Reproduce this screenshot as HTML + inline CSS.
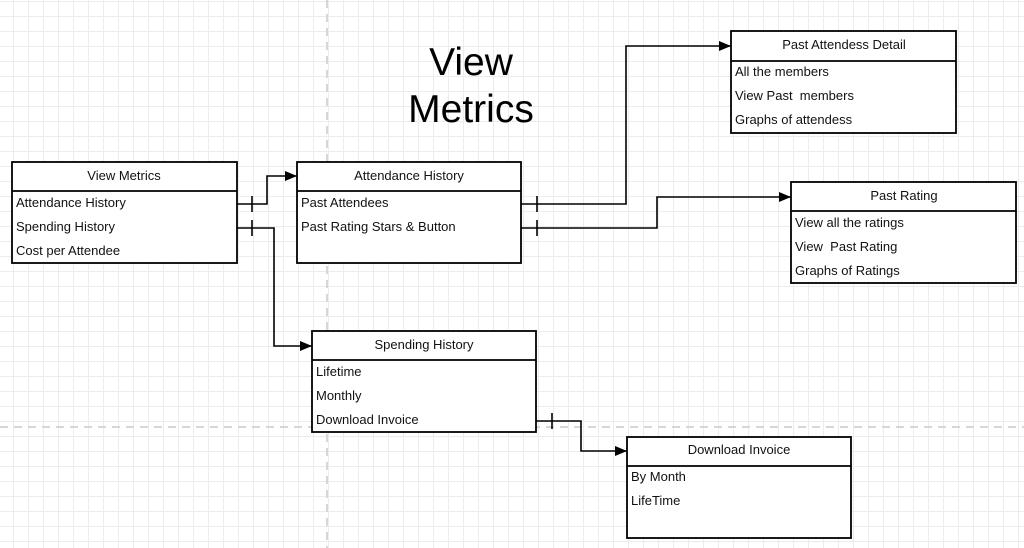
<!DOCTYPE html>
<html><head><meta charset="utf-8"><style>
html,body{margin:0;padding:0;background:#fff;}
svg{display:block;font-family:"Liberation Sans",Arial,sans-serif;}
</style></head><body>
<svg width="1024" height="548" viewBox="0 0 1024 548" xmlns="http://www.w3.org/2000/svg">
<defs>
<pattern id="g" x="13" y="1" width="15" height="15" patternUnits="userSpaceOnUse">
<path d="M0 0.5H15M0.5 0V15" stroke="#ececec" stroke-width="1" fill="none"/>
</pattern>
<marker id="a" markerWidth="12" markerHeight="10" refX="12" refY="5" orient="auto" markerUnits="userSpaceOnUse">
<path d="M0 0L12 5L0 10Z" fill="#000"/>
</marker>
</defs>
<rect width="1024" height="548" fill="url(#g)"/>
<line x1="327" y1="0" x2="327" y2="548" stroke="#d6d6d6" stroke-width="2" stroke-dasharray="8,6"/>
<line x1="0" y1="427" x2="1024" y2="427" stroke="#d6d6d6" stroke-width="2" stroke-dasharray="8,6"/>

<text x="471" y="75" font-size="39" text-anchor="middle">View</text>
<text x="471" y="122" font-size="39" text-anchor="middle">Metrics</text>

<g stroke="#000" stroke-width="1.6" fill="none">
<polyline points="237,204 267,204 267,176 297,176" marker-end="url(#a)"/>
<polyline points="237,228 274,228 274,346 312,346" marker-end="url(#a)"/>
<polyline points="521,204 626,204 626,46 731,46" marker-end="url(#a)"/>
<polyline points="521,228 657,228 657,197 791,197" marker-end="url(#a)"/>
<polyline points="536,421 581,421 581,451 627,451" marker-end="url(#a)"/>
<line x1="252" y1="196" x2="252" y2="212"/>
<line x1="252" y1="220" x2="252" y2="236"/>
<line x1="537" y1="196" x2="537" y2="212"/>
<line x1="537" y1="220" x2="537" y2="236"/>
<line x1="552" y1="413" x2="552" y2="429"/>
</g>

<g font-size="13" fill="#111">
<g stroke="#000" stroke-width="1.8" fill="#fff">
<rect x="12" y="162" width="225" height="101"/><line x1="12" y1="191" x2="237" y2="191"/>
<rect x="297" y="162" width="224" height="101"/><line x1="297" y1="191" x2="521" y2="191"/>
<rect x="731" y="31" width="225" height="102"/><line x1="731" y1="61" x2="956" y2="61"/>
<rect x="791" y="182" width="225" height="101"/><line x1="791" y1="211" x2="1016" y2="211"/>
<rect x="312" y="331" width="224" height="101"/><line x1="312" y1="360" x2="536" y2="360"/>
<rect x="627" y="437" width="224" height="101"/><line x1="627" y1="466" x2="851" y2="466"/>
</g>
<text x="124" y="180" text-anchor="middle">View Metrics</text>
<text x="16" y="207">Attendance History</text>
<text x="16" y="231">Spending History</text>
<text x="16" y="255">Cost per Attendee</text>

<text x="409" y="180" text-anchor="middle">Attendance History</text>
<text x="301" y="207">Past Attendees</text>
<text x="301" y="231">Past Rating Stars &amp; Button</text>

<text x="844" y="49" text-anchor="middle">Past Attendess Detail</text>
<text x="735" y="76">All the members</text>
<text x="735" y="100" xml:space="preserve">View Past  members</text>
<text x="735" y="124">Graphs of attendess</text>

<text x="904" y="200" text-anchor="middle">Past Rating</text>
<text x="795" y="227">View all the ratings</text>
<text x="795" y="251" xml:space="preserve">View  Past Rating</text>
<text x="795" y="275">Graphs of Ratings</text>

<text x="424" y="349" text-anchor="middle">Spending History</text>
<text x="316" y="376">Lifetime</text>
<text x="316" y="400">Monthly</text>
<text x="316" y="424">Download Invoice</text>

<text x="739" y="454" text-anchor="middle">Download Invoice</text>
<text x="631" y="481">By Month</text>
<text x="631" y="505">LifeTime</text>
</g>
</svg>
</body></html>
